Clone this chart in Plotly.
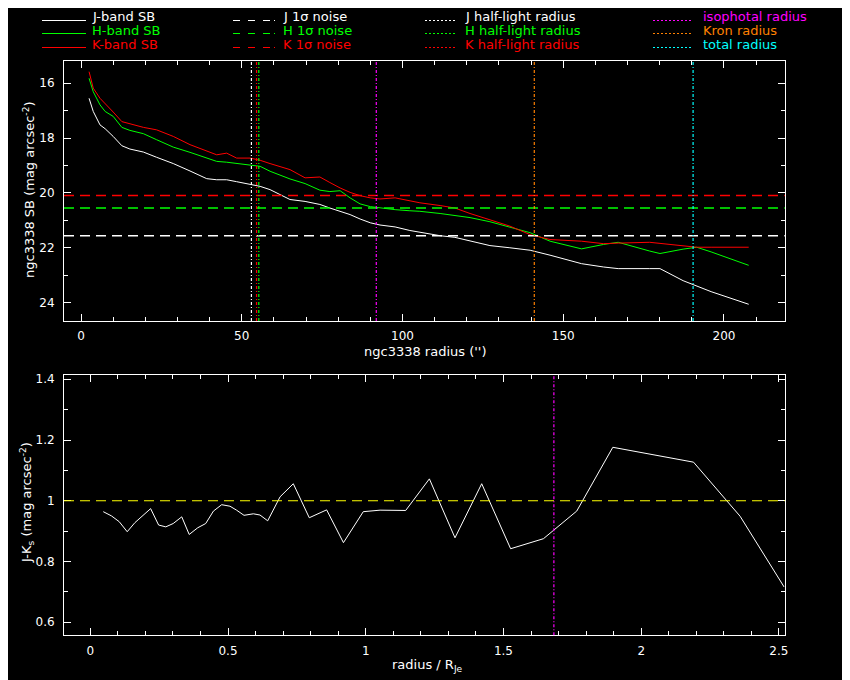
import plotly.graph_objects as go

W, H = 850, 680
OFF = 8  # the page body adds an 8px margin; layout positions below are window pixels

# surface brightness profiles (mag arcsec^-2)
radius = [2.5, 3.8, 5.9, 7.5, 10.0, 12.7, 15.2, 19.4, 23.5, 28.7, 33.9, 39.1,
          42.2, 45.3, 48.4, 52.6, 55.7, 58.8, 61.9, 65.0, 69.7, 74.3, 77.4,
          80.6, 83.7, 86.8, 90.0, 93.0, 97.7, 102.3, 105.4, 111.7, 116.3,
          121.0, 127.2, 133.4, 139.7, 145.9, 155.7, 162.5, 167.1, 176.9,
          180.1, 187.3, 191.5, 196.0, 207.7]
sb_j = [16.55, 17.03, 17.52, 17.66, 17.94, 18.28, 18.40, 18.51, 18.70, 18.93,
        19.20, 19.48, 19.52, 19.52, 19.59, 19.68, 19.76, 19.88, 20.06, 20.24,
        20.31, 20.42, 20.55, 20.67, 20.79, 20.95, 21.09, 21.17, 21.24, 21.37,
        21.44, 21.56, 21.62, 21.76, 21.92, 22.00, 22.09, 22.27, 22.58, 22.70,
        22.76, 22.76, 22.76, 23.20, 23.40, 23.60, 24.06]
sb_h = [15.82, 16.31, 16.79, 17.03, 17.21, 17.61, 17.72, 17.84, 18.06, 18.33,
        18.52, 18.73, 18.85, 18.88, 18.92, 18.98, 19.03, 19.21, 19.36, 19.49,
        19.66, 19.90, 19.95, 19.92, 20.18, 20.40, 20.50, 20.55, 20.61, 20.65,
        20.67, 20.75, 20.83, 20.90, 21.05, 21.24, 21.45, 21.76, 22.04, 21.88,
        21.80, 22.12, 22.21, 22.05, 21.98, 22.15, 22.64]
sb_k = [15.58, 16.18, 16.55, 16.76, 17.05, 17.40, 17.48, 17.61, 17.70, 17.94,
        18.24, 18.46, 18.61, 18.55, 18.73, 18.73, 18.81, 18.93, 19.05, 19.15,
        19.45, 19.42, 19.62, 19.82, 19.98, 20.10, 20.18, 20.22, 20.18, 20.28,
        20.36, 20.46, 20.55, 20.75, 20.97, 21.21, 21.52, 21.70, 21.76, 21.85,
        21.83, 21.80, 21.84, 21.92, 21.98, 21.98, 21.98]

# 1-sigma noise levels
noise_j = 21.56
noise_h = 20.55
noise_k = 20.09

# radii (arcsec)
half_light_j = 53.0
half_light_h = 55.3
half_light_k = 54.6
iso_radius = 91.85
kron_radius = 141.0
total_radius = 190.4

# J-Ks colour profile vs radius / R_Je
color_r = [0.047, 0.077, 0.105, 0.134, 0.162, 0.192, 0.219, 0.248, 0.274,
           0.301, 0.332, 0.359, 0.390, 0.419, 0.447, 0.477, 0.507, 0.531,
           0.558, 0.592, 0.616, 0.644, 0.689, 0.737, 0.795, 0.858, 0.919,
           0.991, 1.052, 1.145, 1.231, 1.324, 1.421, 1.526, 1.645, 1.766,
           1.897, 2.190, 2.359, 2.519]
color_jk = [0.964, 0.950, 0.931, 0.898, 0.928, 0.954, 0.974, 0.920, 0.914,
            0.925, 0.947, 0.889, 0.911, 0.925, 0.966, 0.987, 0.982, 0.969,
            0.952, 0.957, 0.953, 0.934, 1.013, 1.056, 0.944, 0.970, 0.862,
            0.964, 0.969, 0.968, 1.072, 0.878, 1.056, 0.842, 0.875, 0.966,
            1.176, 1.127, 0.949, 0.716]
color_ref = 1.0
iso_norm = 1.683

FONT = 'DejaVu Sans'
WHITE, GREEN, RED = '#ffffff', '#00ff00', '#ff0000'
MAGENTA, ORANGE, CYAN, YELLOW = '#ff00ff', '#ff8000', '#00ffff', '#ffff00'
DOTDASH = '3px,2px,1px,2px'


def px(x):
    return (x - OFF) / W


def py(y):
    return 1 - (y - OFF) / H


fig = go.Figure()

for vals, col in [(sb_j, WHITE), (sb_h, GREEN), (sb_k, RED)]:
    fig.add_trace(go.Scatter(x=radius, y=vals, mode='lines', xaxis='x', yaxis='y',
                             line=dict(color=col, width=1), showlegend=False))

fig.add_trace(go.Scatter(x=color_r, y=color_jk, mode='lines', xaxis='x2', yaxis='y2',
                         line=dict(color=WHITE, width=1), showlegend=False))

shapes = []
for lvl, col in [(noise_k, RED), (noise_h, GREEN), (noise_j, WHITE)]:
    shapes.append(dict(type='line', xref='x domain', x0=0, x1=1, yref='y', y0=lvl, y1=lvl,
                       line=dict(color=col, width=1.5, dash='10px,6px')))
for r, col in [(half_light_j, WHITE), (half_light_k, RED), (half_light_h, GREEN),
               (iso_radius, MAGENTA), (kron_radius, ORANGE), (total_radius, CYAN)]:
    shapes.append(dict(type='line', yref='y domain', y0=0, y1=1, xref='x', x0=r, x1=r,
                       line=dict(color=col, width=1.2, dash=DOTDASH)))
shapes.append(dict(type='line', xref='x2 domain', x0=0, x1=1, yref='y2', y0=color_ref, y1=color_ref,
                   line=dict(color=YELLOW, width=1.2, dash='10px,6px')))
shapes.append(dict(type='line', yref='y2 domain', y0=0, y1=1, xref='x2', x0=iso_norm, x1=iso_norm,
                   line=dict(color=MAGENTA, width=1.2, dash=DOTDASH)))

# legend block drawn by hand (4 columns x 3 rows)
legend_rows = [
    [('J-band SB', WHITE, 'solid'), ('J 1σ noise', WHITE, 'noise'),
     ('J half-light radius', WHITE, 'dot'), ('isophotal radius', MAGENTA, 'dot')],
    [('H-band SB', GREEN, 'solid'), ('H 1σ noise', GREEN, 'noise'),
     ('H half-light radius', GREEN, 'dot'), ('Kron radius', ORANGE, 'dot')],
    [('K-band SB', RED, 'solid'), ('K 1σ noise', RED, 'noise'),
     ('K half-light radius', RED, 'dot'), ('total radius', CYAN, 'dot')],
]
col_line = [(42, 86), (233, 276), (425, 457), (653, 693)]
col_text = [91, 282, 464, 702]
row_line = [20.5, 33.5, 47.5]
row_text = [17, 31, 44.5]
dashes = {'solid': 'solid', 'noise': '7px,8px,7px,8px,7px,4px,1px,20px', 'dot': '2px,2px'}

annotations = []
for i, row in enumerate(legend_rows):
    for j, (label, col, style) in enumerate(row):
        x0, x1 = col_line[j]
        shapes.append(dict(type='line', xref='paper', yref='paper',
                           x0=px(x0), x1=px(x1), y0=py(row_line[i]), y1=py(row_line[i]),
                           line=dict(color=col, width=1, dash=dashes[style])))
        annotations.append(dict(text=label, xref='paper', yref='paper', x=px(col_text[j]),
                                y=py(row_text[i]), xanchor='left', yanchor='middle',
                                borderpad=0, showarrow=False,
                                font=dict(color=col, size=13, family=FONT)))

titles = [
    ("ngc3338 radius ('')", 425, 351, 0),
    ('ngc3338 SB (mag arcsec<sup>-2</sup>)', 29, 190, -90),
    ('radius / R<sub>Je</sub>', 427, 665, 0),
    ('J-K<sub>s</sub> (mag arcsec<sup>-2</sup>)', 27, 503, -90),
]
for text, x, y, ang in titles:
    annotations.append(dict(text=text, xref='paper', yref='paper', x=px(x), y=py(y),
                            xanchor='center', yanchor='middle', textangle=ang,
                            showarrow=False, font=dict(color=WHITE, size=13, family=FONT)))

axis_style = dict(showline=True, linecolor=WHITE, linewidth=1, mirror='allticks',
                  ticks='inside', ticklen=7, tickcolor=WHITE, tickwidth=1,
                  showgrid=False, zeroline=False, automargin=False,
                  tickfont=dict(color=WHITE, size=12, family=FONT))

fig.update_layout(
    width=W, height=H,
    paper_bgcolor='black', plot_bgcolor='black',
    margin=dict(l=0, r=0, t=0, b=0),
    showlegend=False,
    xaxis=dict(domain=[px(64), px(784.7)], range=[-5.3, 218.9], tick0=0, dtick=50,
               anchor='y', minor=dict(dtick=10, ticks='inside', ticklen=4, tickcolor=WHITE),
               ticklabelstandoff=4, **axis_style),
    yaxis=dict(domain=[py(321), py(61)], range=[24.67, 15.19], tick0=0, dtick=2,
               anchor='x', minor=dict(dtick=1, ticks='inside', ticklen=4, tickcolor=WHITE),
               ticklabelstandoff=6, **axis_style),
    xaxis2=dict(domain=[px(64), px(784.7)], range=[-0.0955, 2.521], tick0=0, dtick=0.5,
                anchor='y2', minor=dict(dtick=0.1, ticks='inside', ticklen=4, tickcolor=WHITE),
                ticklabelstandoff=4, **axis_style),
    yaxis2=dict(domain=[py(635.3), py(375.3)], range=[0.557, 1.413], tick0=0, dtick=0.2,
                anchor='x2', minor=dict(dtick=0.1, ticks='inside', ticklen=4, tickcolor=WHITE),
                ticklabelstandoff=6, **axis_style),
    shapes=shapes,
    annotations=annotations,
)

fig.write_html("out.html")
